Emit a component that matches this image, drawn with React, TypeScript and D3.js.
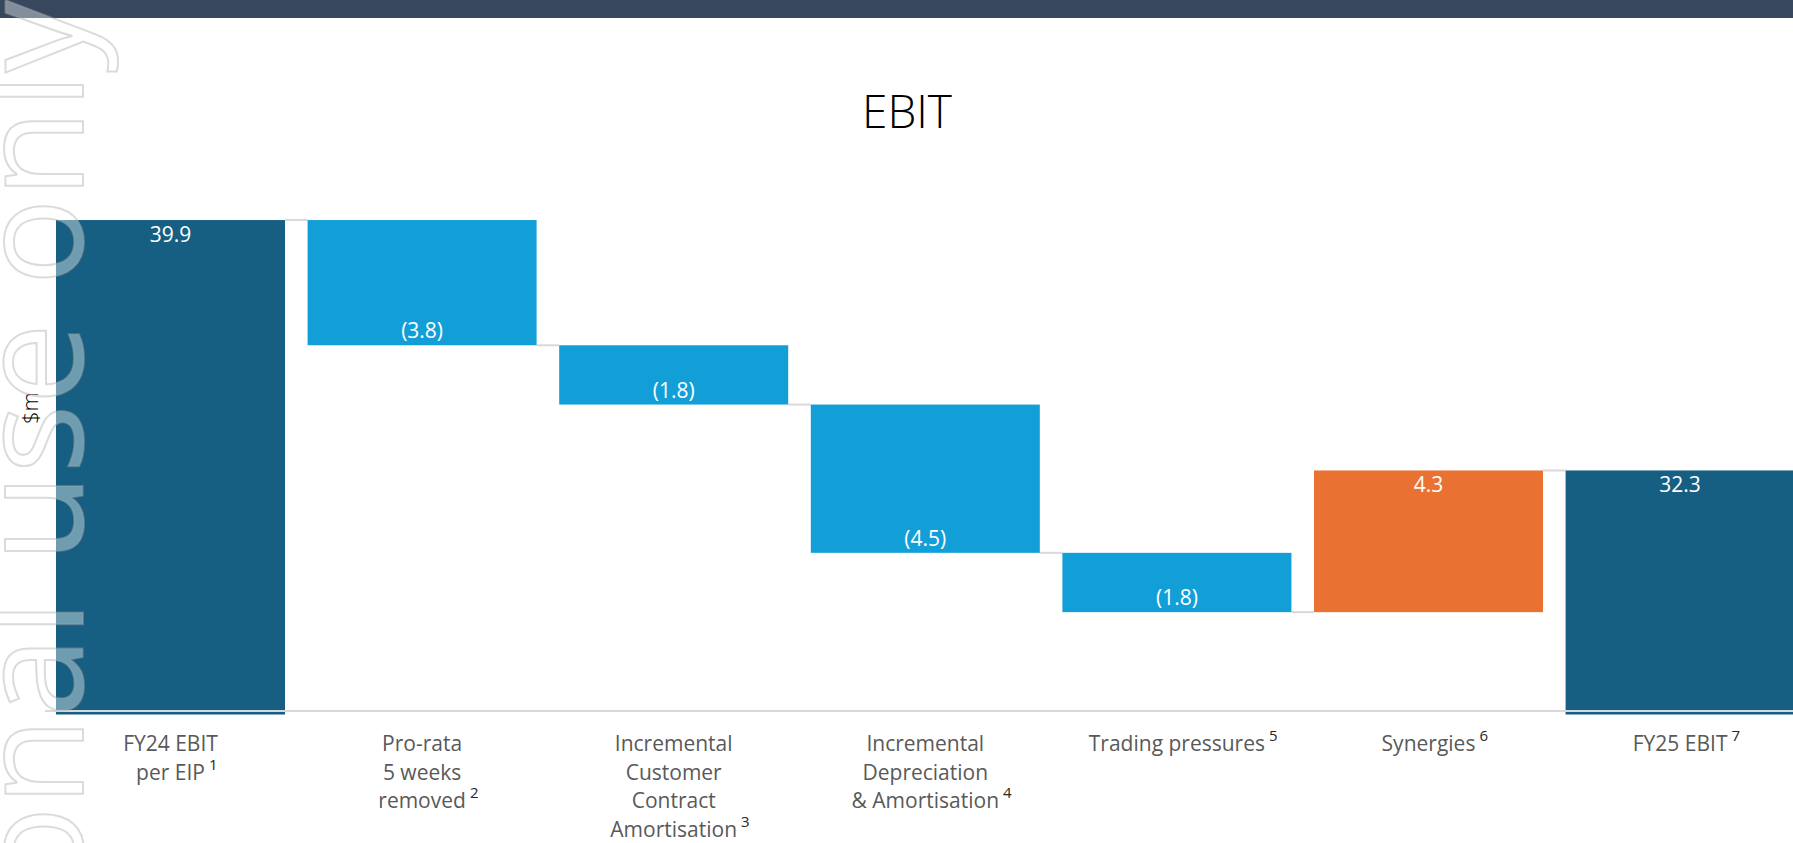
import React, { useEffect, useRef } from 'react';
import * as d3 from 'd3';

const labelLines = [
  ['FY24 EBIT', 'per EIP'],
  ['Pro-rata', '5 weeks', 'removed'],
  ['Incremental', 'Customer', 'Contract', 'Amortisation'],
  ['Incremental', 'Depreciation', '& Amortisation'],
  ['Trading pressures'],
  ['Synergies'],
  ['FY25 EBIT'],
];
const footnotes = ['1', '2', '3', '4', '5', '6', '7'];
const values = [39.9, -3.8, -1.8, -4.5, -1.8, 4.3, 32.3];
const barKinds = ['total', 'down', 'down', 'down', 'down', 'up', 'total'];
const valueLabels = ['39.9', '(3.8)', '(1.8)', '(4.5)', '(1.8)', '4.3', '32.3'];
const yDomain = [25, 40];

const WIDTH = 1793;
const HEIGHT = 843;

const colors = { total: '#165f82', down: '#129fd7', up: '#e97132' };

const EbitWaterfall = () => {
  const svgRef = useRef<SVGSVGElement>(null);

  useEffect(() => {
    const svg = d3.select(svgRef.current);
    svg.selectAll('*').remove();

    const plotBottom = 711;
    const plotTop = 216.75;
    const firstBar = 56;
    const step = 251.6;
    const gap = 22.6;

    const yScale = d3.scaleLinear().domain(yDomain).range([plotBottom, plotTop]);
    const xScale = d3.scaleBand<number>()
      .domain(d3.range(values.length))
      .range([firstBar - gap / 2, firstBar - gap / 2 + step * values.length])
      .paddingInner(gap / step)
      .paddingOuter(gap / step / 2);
    const bw = xScale.bandwidth();

    // running totals -> bar extents
    let running = 0;
    const steps = values.map((v, i) => {
      const kind = barKinds[i];
      if (kind === 'total') {
        running = v;
        return { i, lo: yDomain[0], hi: v, kind, level: v };
      }
      const start = running;
      running += v;
      return { i, lo: Math.min(start, running), hi: Math.max(start, running), kind, level: running };
    });

    svg.append('rect')
      .attr('width', WIDTH).attr('height', HEIGHT).attr('fill', '#ffffff');

    // top band
    svg.append('rect')
      .attr('width', WIDTH).attr('height', 18).attr('fill', '#37475e');

    // title
    svg.append('text')
      .attr('x', 907).attr('y', 128)
      .attr('text-anchor', 'middle')
      .style('font-family', '"Open Sans", sans-serif')
      .style('font-weight', 300)
      .style('font-size', '46px')
      .attr('fill', '#000')
      .text('EBIT');

    // connectors
    svg.append('g')
      .selectAll('line')
      .data(steps.slice(0, -1))
      .enter()
      .append('line')
      .attr('x1', d => xScale(d.i)! + bw)
      .attr('x2', d => xScale(d.i + 1)!)
      .attr('y1', d => yScale(d.level))
      .attr('y2', d => yScale(d.level))
      .attr('stroke', '#d9d9d9')
      .attr('stroke-width', 2);

    // bars
    svg.append('g')
      .selectAll('rect')
      .data(steps)
      .enter()
      .append('rect')
      .attr('x', d => xScale(d.i)!)
      .attr('width', bw)
      .attr('y', d => yScale(d.hi))
      .attr('height', d => yScale(d.lo) - yScale(d.hi) + (d.kind === 'total' ? 3.5 : 0))
      .attr('fill', d => colors[d.kind]);

    // axis line
    svg.append('line')
      .attr('x1', 45).attr('x2', WIDTH)
      .attr('y1', yScale(yDomain[0])).attr('y2', yScale(yDomain[0]))
      .attr('stroke', '#d9d9d9')
      .attr('stroke-width', 2);

    // value labels
    svg.append('g')
      .selectAll('text')
      .data(steps)
      .enter()
      .append('text')
      .attr('x', d => xScale(d.i)! + bw / 2)
      .attr('y', d => d.kind === 'down' ? yScale(d.lo) - 7 : yScale(d.hi) + 22)
      .attr('text-anchor', 'middle')
      .style('font-family', '"Open Sans", sans-serif')
      .style('font-size', '21px')
      .attr('fill', '#ffffff')
      .text(d => valueLabels[d.i]);

    // category labels
    const lineHeight = 28.7;
    const firstBaseline = 751;
    const cats = svg.append('g');
    labelLines.forEach((lines, i) => {
      const cx = xScale(i)! + bw / 2;
      let lastNode: SVGTextElement | null = null;
      lines.forEach((line, j) => {
        const t = cats.append('text')
          .attr('x', cx)
          .attr('y', firstBaseline + j * lineHeight)
          .attr('text-anchor', 'middle')
          .style('font-family', '"Open Sans", sans-serif')
          .style('font-size', '21px')
          .attr('fill', '#595959')
          .text(line);
        lastNode = t.node();
      });
      const len = lastNode ? (lastNode as SVGTextElement).getComputedTextLength() : 0;
      cats.append('text')
        .attr('x', cx + len / 2 + 4)
        .attr('y', firstBaseline + (lines.length - 1) * lineHeight - 10)
        .style('font-family', '"Open Sans", sans-serif')
        .style('font-size', '15px')
        .attr('fill', '#262626')
        .text(footnotes[i]);
    });

    // y axis title
    svg.append('text')
      .attr('transform', 'translate(37.5,408) rotate(-90)')
      .attr('text-anchor', 'middle')
      .style('font-family', '"Open Sans", sans-serif')
      .style('font-weight', 300)
      .style('font-size', '22px')
      .attr('fill', '#000')
      .text('$m');

    // watermark
    svg.append('text')
      .attr('transform', 'translate(83,0) rotate(-90)')
      .attr('text-anchor', 'end')
      .style('font-family', '"Open Sans", sans-serif')
      .style('font-weight', 400)
      .style('font-size', '145px')
      .attr('fill', '#ffffff')
      .attr('fill-opacity', 0.38)
      .attr('stroke', '#a6a6a6')
      .attr('stroke-opacity', 0.4)
      .attr('stroke-width', 2)
      .text('For personal use only');
  }, []);

  return (
    <svg
      ref={svgRef}
      width={WIDTH}
      height={HEIGHT}
      style={{ position: 'fixed', left: 0, top: 0 }}
    ></svg>
  );
};

export default function App() {
  return <EbitWaterfall />;
}
